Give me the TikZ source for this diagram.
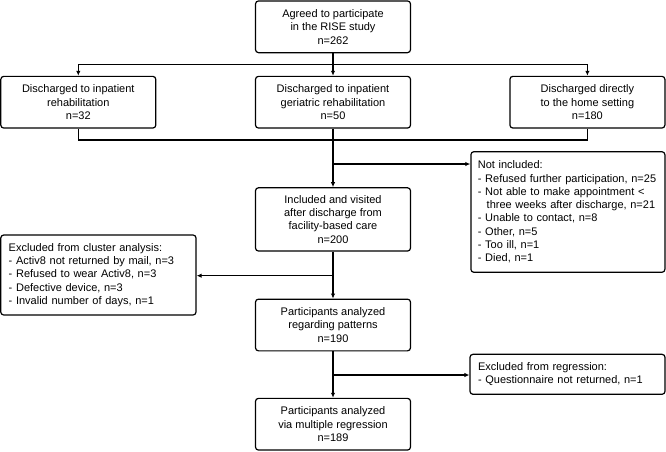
\documentclass[tikz,border=0pt]{standalone}
\usepackage{fontspec}
\setmainfont{Liberation Sans}
\usetikzlibrary{arrows.meta}

\begin{document}
\begin{tikzpicture}[x=1pt, y=-1pt, line width=1.2pt, >={Latex[length=5pt,width=4.5pt]},
	every node/.style={font=\fontsize{11}{13.3}\selectfont},
	box/.style={draw, rounded corners=3pt, align=center, minimum width=155pt, minimum height=51.7pt, inner sep=2pt},
	listbox/.style={draw, rounded corners=3pt, align=left, inner xsep=8pt, inner ysep=2pt}]
	\useasboundingbox (0,0) rectangle (666,451);
	\node[box] (agreed) at (333,26.8) {Agreed to participate\\in the RISE study\\n=262};
	\node[box] (inpat) at (78.3,102.2) {Discharged to inpatient\\rehabilitation\\n=32};
	\node[box] (geri) at (333,102.2) {Discharged to inpatient\\geriatric rehabilitation\\n=50};
	\node[box] (home) at (587.4,102.2) {Discharged directly\\to the home setting\\n=180};
	\node[box, minimum height=63.3pt] (incl) at (333,219.4) {Included and visited\\after discharge from\\facility-based care\\n=200};
	\node[listbox, text width=180pt, inner xsep=7pt, minimum height=120.6pt] (notincl) at (567.9,212) {Not included:\\\mbox{- Refused further participation, n=25}\\\mbox{- Not able to make appointment <}\\\mbox{\hspace*{0.8em}three weeks after discharge, n=21}\\- Unable to contact, n=8\\- Other, n=5\\- Too ill, n=1\\- Died, n=1};
	\node[listbox, text width=179.3pt, minimum height=80pt] (cluster) at (98.4,275) {Excluded from cluster analysis:\\- Activ8 not returned by mail, n=3\\- Refused to wear Activ8, n=3\\- Defective device, n=3\\- Invalid number of days, n=1};
	\node[box] (patt) at (333,325) {Participants analyzed\\regarding patterns\\n=190};
	\node[listbox, text width=179pt, minimum height=40pt] (regr) at (567.5,374.3) {Excluded from regression:\\- Questionnaire not returned, n=1};
	\node[box] (final) at (333,424.2) {Participants analyzed\\via multiple regression\\n=189};

	\coordinate (split) at (333,64.3);
	\coordinate (merge) at (333,140);
	\coordinate (b1) at (333,164);
	\coordinate (b2) at (333,275.7);
	\coordinate (b3) at (333,375);
	\draw[->] (agreed) -- (geri);
	\draw[->] (split) -| (inpat.north);
	\draw[->] (split) -| (home.north);
	\draw (inpat.south) |- (merge) -| (home.south);
	\draw[->] (geri) -- (incl);
	\draw[->] (b1) -- (b1 -| notincl.west);
	\draw[->] (incl) -- (patt);
	\draw[->] (b2) -- (b2 -| cluster.east);
	\draw[->] (patt) -- (final);
	\draw[->] (b3) -- (b3 -| regr.west);
\end{tikzpicture}
\end{document}
